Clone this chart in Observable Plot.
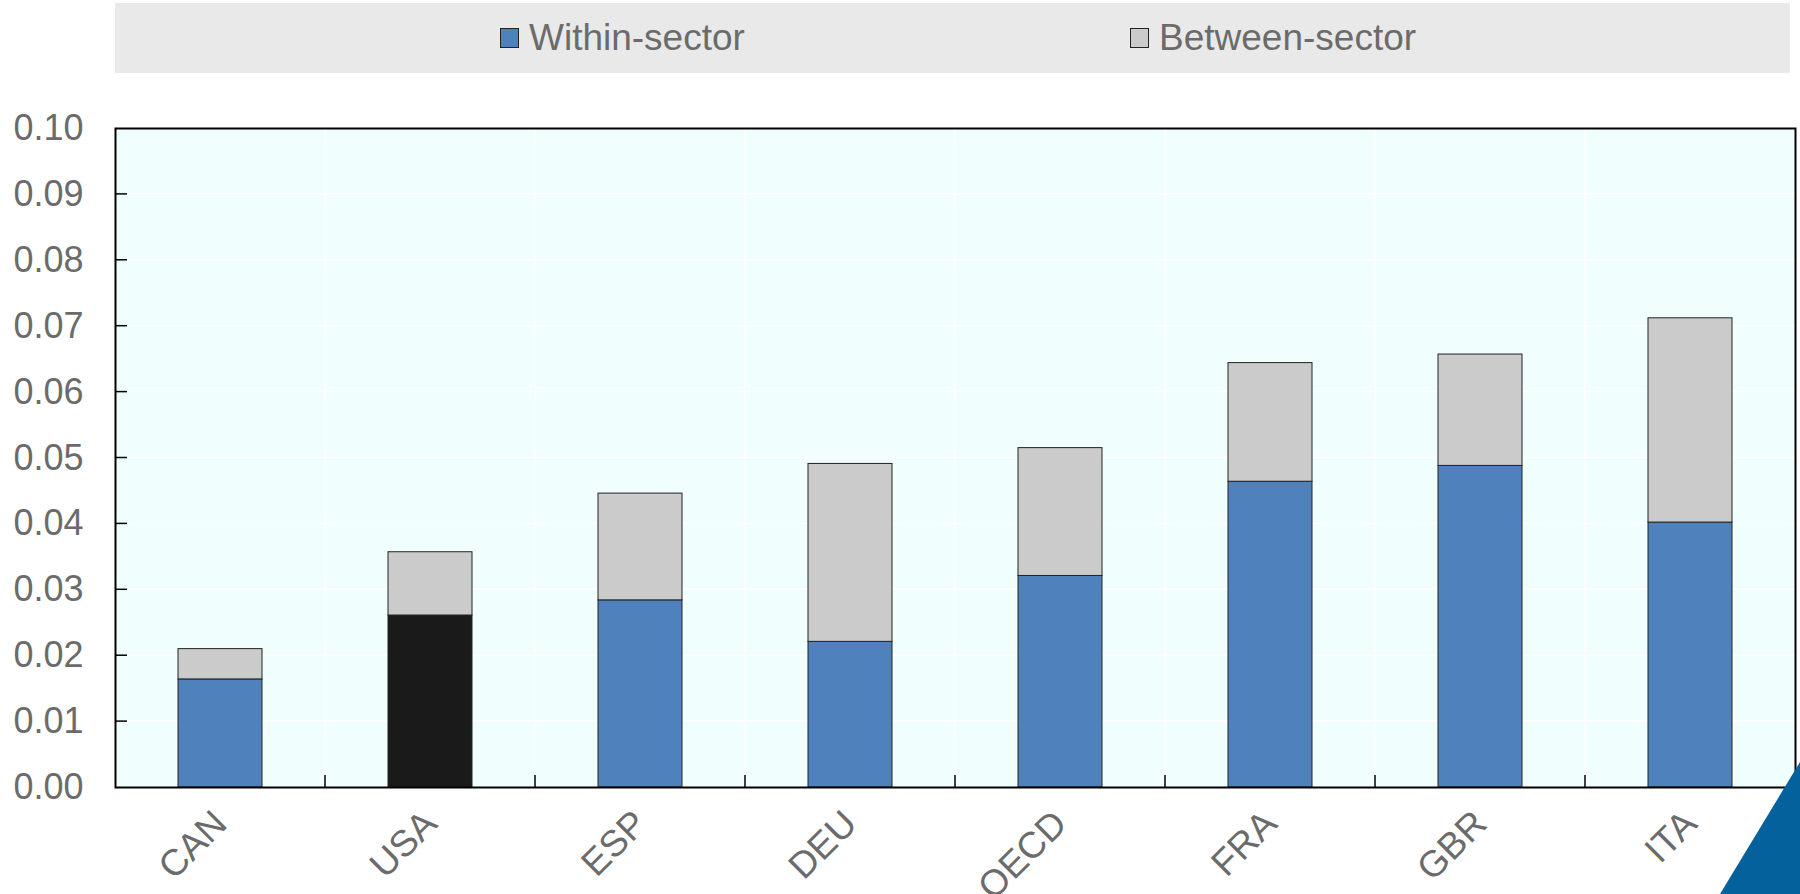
<!DOCTYPE html>
<html>
<head>
<meta charset="utf-8">
<script src="https://cdn.jsdelivr.net/npm/d3@7"></script>
<script src="https://cdn.jsdelivr.net/npm/@observablehq/plot@0.6"></script>
<style>
  html, body { margin: 0; padding: 0; background: #ffffff; width: 1800px; height: 894px; overflow: hidden; position: relative; }
  body { font-family: "Liberation Sans", Arial, sans-serif; }
  #legend {
    position: absolute; left: 115px; top: 3px; width: 1675px; height: 70px;
    background: #e9e9e9; color: #6b6b6b; font-size: 37px;
  }
  .item { position: absolute; top: 0; height: 70px; display: flex; align-items: center; }
  .sw { width: 19px; height: 20px; border: 1px solid #222; margin-right: 10px; box-sizing: border-box; }
  #chart { position: absolute; left: 0; top: 73px; }
  #chart svg { display: block; }
  #corner { position: absolute; left: 1700px; top: 750px; width: 100px; height: 144px; background: #05619b;
    clip-path: polygon(20px 144px, 100px 12px, 100px 144px); }
</style>
</head>
<body>
<div id="legend"></div>
<div id="chart"></div>
<div id="corner"></div>
<script>
const categories = ["CAN", "USA", "ESP", "DEU", "OECD", "FRA", "GBR", "ITA"];
const seriesNames = ["Within-sector", "Between-sector"];
const withinSector = [0.0164, 0.0261, 0.0284, 0.0221, 0.0321, 0.0464, 0.0488, 0.0402];
const betweenSector = [0.0046, 0.0096, 0.0162, 0.0270, 0.0194, 0.0180, 0.0169, 0.0310];
const yTicks = [0, 0.01, 0.02, 0.03, 0.04, 0.05, 0.06, 0.07, 0.08, 0.09, 0.10];
const seriesColors = ["#4f81bd", "#cbcbcb"];
const highlightCountry = "USA";
const highlightColor = "#1a1a1a";

const rows = [];
categories.forEach((c, i) => {
  rows.push({country: c, series: seriesNames[0], value: withinSector[i],
    color: c === highlightCountry ? highlightColor : seriesColors[0]});
  rows.push({country: c, series: seriesNames[1], value: betweenSector[i], color: seriesColors[1]});
});

// legend
const legend = document.getElementById("legend");
const legendLeft = [385, 1015];
seriesNames.forEach((s, i) => {
  const it = document.createElement("div");
  it.className = "item";
  it.style.left = legendLeft[i] + "px";
  const sw = document.createElement("div");
  sw.className = "sw";
  sw.style.background = seriesColors[i];
  const tx = document.createElement("span");
  tx.textContent = s;
  it.appendChild(sw); it.appendChild(tx);
  legend.appendChild(it);
});

const W = 1800, H = 821, mt = 55, mb = 107, ml = 115, mr = 5;

function gridAndTicks(index, scales, values, dimensions) {
  const x = scales.x, y = scales.y;
  const g = d3.create("svg:g");
  const step = x.step(), bw = x.bandwidth();
  const bounds = categories.slice(0, -1).map(c => x(c) + bw + (step - bw) / 2);
  const top = y(yTicks[yTicks.length - 1]), bottom = y(0);
  g.selectAll("line.vg").data(bounds).join("line")
    .attr("x1", d => d).attr("x2", d => d).attr("y1", top).attr("y2", bottom)
    .attr("stroke", "#ffffff").attr("stroke-width", 1.5);
  g.selectAll("line.hg").data(yTicks.slice(1, -1)).join("line")
    .attr("x1", ml).attr("x2", W - mr).attr("y1", d => y(d)).attr("y2", d => y(d))
    .attr("stroke", "#ffffff").attr("stroke-width", 1.5);
  return g.node();
}

function tickMarks(index, scales) {
  const x = scales.x, y = scales.y;
  const g = d3.create("svg:g");
  const step = x.step(), bw = x.bandwidth();
  const bounds = categories.slice(0, -1).map(c => x(c) + bw + (step - bw) / 2);
  const bottom = y(0);
  g.selectAll("line.xt").data(bounds).join("line")
    .attr("x1", d => d).attr("x2", d => d).attr("y1", bottom).attr("y2", bottom - 12)
    .attr("stroke", "#000").attr("stroke-width", 1.5);
  g.selectAll("line.yt").data(yTicks.slice(1, -1)).join("line")
    .attr("x1", ml).attr("x2", ml + 12).attr("y1", d => y(d)).attr("y2", d => y(d))
    .attr("stroke", "#000").attr("stroke-width", 1.5);
  return g.node();
}

const chart = Plot.plot({
  width: W, height: H,
  marginTop: mt, marginBottom: mb, marginLeft: ml, marginRight: mr,
  style: {fontFamily: '"Liberation Sans", Arial, sans-serif', color: "#6b6b6b", background: "transparent"},
  x: {type: "band", domain: categories, paddingInner: 0.6, paddingOuter: 0.3, label: null},
  y: {domain: [0, 0.10], label: null},
  color: {type: "identity"},
  marks: [
    Plot.frame({fill: "#f1fefe", stroke: null}),
    gridAndTicks,
    Plot.barY(rows, {x: "country", y: "value", z: "series", fill: "color", stroke: "#222", strokeWidth: 1}),
    tickMarks,
    Plot.frame({stroke: "#000", strokeWidth: 2}),
    Plot.axisY({ticks: yTicks, tickFormat: d3.format(".2f"), tickSize: 0, tickPadding: 32, fontSize: 36, fill: "#6b6b6b"}),
    Plot.axisX({tickRotate: -45, tickSize: 0, tickPadding: 30, fontSize: 37, fill: "#6b6b6b"})
  ]
});
document.getElementById("chart").appendChild(chart);
</script>
</body>
</html>
